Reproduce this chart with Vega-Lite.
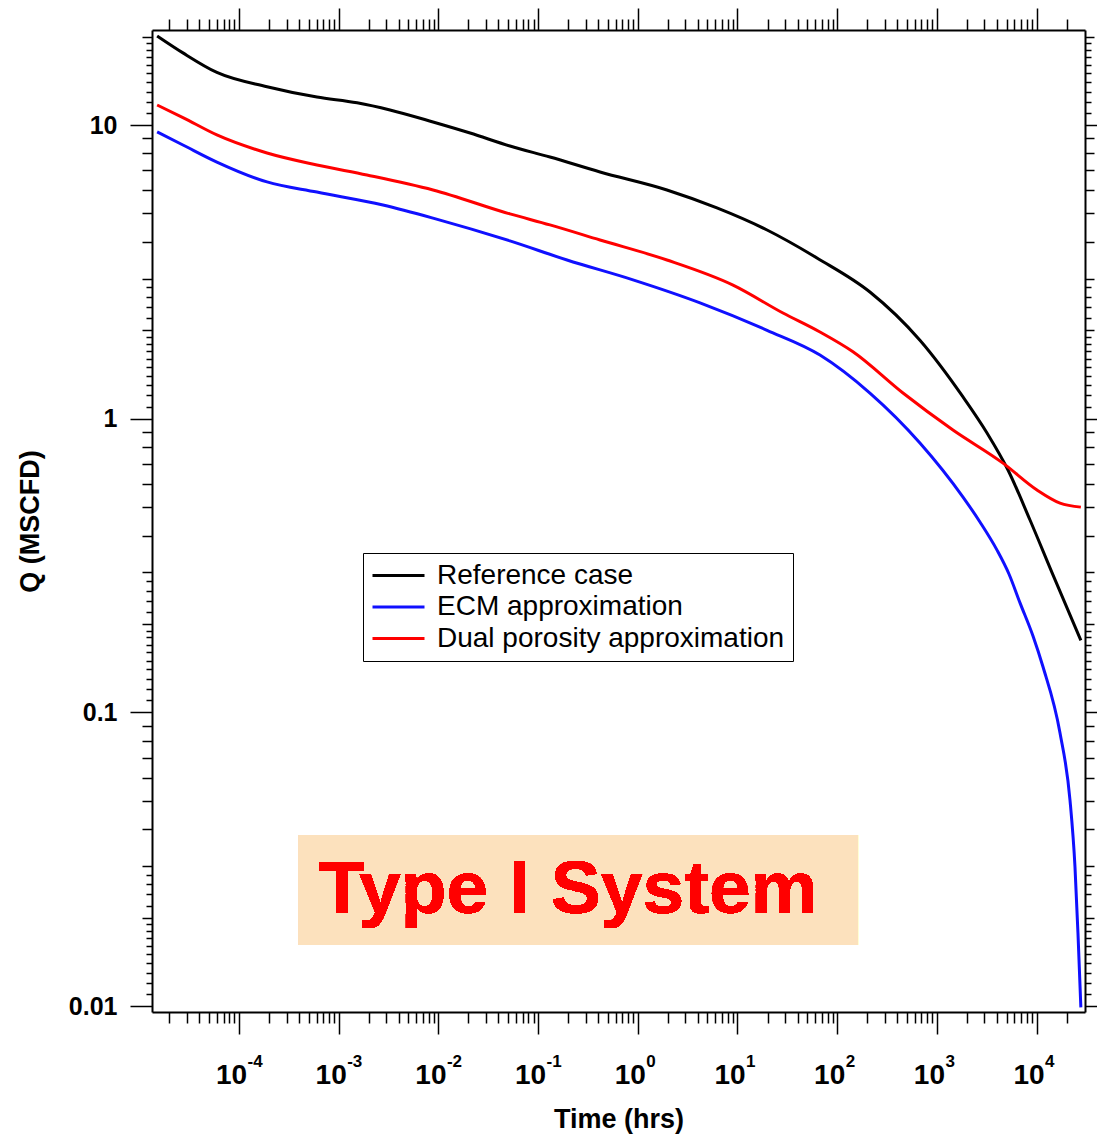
{
  "$schema": "https://vega.github.io/schema/vega-lite/v6.json",
  "width": 933,
  "height": 982,
  "autosize": {"type": "none"},
  "padding": {"left": 152, "top": 30, "right": 12, "bottom": 124},
  "background": "white",
  "config": {
    "view": {"stroke": null},
    "font": "Liberation Sans",
    "axis": {"grid": false, "domainColor": "black", "tickColor": "black", "labelColor": "black", "titleColor": "black", "domainWidth": 2, "tickWidth": 1.5, "labelFlush": false, "labelOverlap": false, "labelFont": "Liberation Sans", "titleFont": "Liberation Sans"}
  },
  "data": {
    "values": [
      {"series": "Reference case", "t": 0.0000151, "q": 20.1},
      {"series": "Reference case", "t": 0.0000274, "q": 17.6},
      {"series": "Reference case", "t": 0.00006, "q": 15.1},
      {"series": "Reference case", "t": 0.000191, "q": 13.5},
      {"series": "Reference case", "t": 0.000605, "q": 12.45},
      {"series": "Reference case", "t": 0.00153, "q": 11.9},
      {"series": "Reference case", "t": 0.00327, "q": 11.25},
      {"series": "Reference case", "t": 0.00883, "q": 10.24},
      {"series": "Reference case", "t": 0.0208, "q": 9.39},
      {"series": "Reference case", "t": 0.0522, "q": 8.48},
      {"series": "Reference case", "t": 0.1315, "q": 7.78},
      {"series": "Reference case", "t": 0.418, "q": 6.92},
      {"series": "Reference case", "t": 1.96, "q": 6.01},
      {"series": "Reference case", "t": 6.22, "q": 5.22},
      {"series": "Reference case", "t": 19.8, "q": 4.39},
      {"series": "Reference case", "t": 65, "q": 3.5},
      {"series": "Reference case", "t": 213, "q": 2.7},
      {"series": "Reference case", "t": 676, "q": 1.85},
      {"series": "Reference case", "t": 1828, "q": 1.186},
      {"series": "Reference case", "t": 3184, "q": 0.894},
      {"series": "Reference case", "t": 5167, "q": 0.669},
      {"series": "Reference case", "t": 8590, "q": 0.452},
      {"series": "Reference case", "t": 14600, "q": 0.294},
      {"series": "Reference case", "t": 27800, "q": 0.176},
      {"series": "ECM approximation", "t": 0.0000151, "q": 9.47},
      {"series": "ECM approximation", "t": 0.0000274, "q": 8.55},
      {"series": "ECM approximation", "t": 0.00006, "q": 7.48},
      {"series": "ECM approximation", "t": 0.000191, "q": 6.4},
      {"series": "ECM approximation", "t": 0.000605, "q": 5.91},
      {"series": "ECM approximation", "t": 0.00278, "q": 5.34},
      {"series": "ECM approximation", "t": 0.00883, "q": 4.82},
      {"series": "ECM approximation", "t": 0.0522, "q": 4.03},
      {"series": "ECM approximation", "t": 0.195, "q": 3.47},
      {"series": "ECM approximation", "t": 0.895, "q": 2.97},
      {"series": "ECM approximation", "t": 4.21, "q": 2.48},
      {"series": "ECM approximation", "t": 19.8, "q": 2.0},
      {"series": "ECM approximation", "t": 67.2, "q": 1.648},
      {"series": "ECM approximation", "t": 213, "q": 1.223},
      {"series": "ECM approximation", "t": 676, "q": 0.827},
      {"series": "ECM approximation", "t": 1828, "q": 0.541},
      {"series": "ECM approximation", "t": 2704, "q": 0.445},
      {"series": "ECM approximation", "t": 4010, "q": 0.357},
      {"series": "ECM approximation", "t": 5284, "q": 0.296},
      {"series": "ECM approximation", "t": 6820, "q": 0.236},
      {"series": "ECM approximation", "t": 9204, "q": 0.182},
      {"series": "ECM approximation", "t": 11590, "q": 0.143},
      {"series": "ECM approximation", "t": 17180, "q": 0.0851},
      {"series": "ECM approximation", "t": 21630, "q": 0.0503},
      {"series": "ECM approximation", "t": 24270, "q": 0.0298},
      {"series": "ECM approximation", "t": 26000, "q": 0.01775},
      {"series": "ECM approximation", "t": 27800, "q": 0.0099},
      {"series": "Dual porosity approximation", "t": 0.0000151, "q": 11.7},
      {"series": "Dual porosity approximation", "t": 0.0000274, "q": 10.6},
      {"series": "Dual porosity approximation", "t": 0.00006, "q": 9.25},
      {"series": "Dual porosity approximation", "t": 0.000191, "q": 8.03},
      {"series": "Dual porosity approximation", "t": 0.000605, "q": 7.31},
      {"series": "Dual porosity approximation", "t": 0.00192, "q": 6.76},
      {"series": "Dual porosity approximation", "t": 0.00883, "q": 6.01},
      {"series": "Dual porosity approximation", "t": 0.0522, "q": 4.98},
      {"series": "Dual porosity approximation", "t": 0.1315, "q": 4.57},
      {"series": "Dual porosity approximation", "t": 0.418, "q": 4.06},
      {"series": "Dual porosity approximation", "t": 1.96, "q": 3.47},
      {"series": "Dual porosity approximation", "t": 9.02, "q": 2.85},
      {"series": "Dual porosity approximation", "t": 28.6, "q": 2.29},
      {"series": "Dual porosity approximation", "t": 67.2, "q": 1.973},
      {"series": "Dual porosity approximation", "t": 144, "q": 1.69},
      {"series": "Dual porosity approximation", "t": 457, "q": 1.223},
      {"series": "Dual porosity approximation", "t": 1449, "q": 0.915},
      {"series": "Dual porosity approximation", "t": 4600, "q": 0.706},
      {"series": "Dual porosity approximation", "t": 10090, "q": 0.572},
      {"series": "Dual porosity approximation", "t": 17180, "q": 0.516},
      {"series": "Dual porosity approximation", "t": 27800, "q": 0.5}
    ]
  },
  "layer": [
    {
      "mark": {"type": "rect", "color": "#fce1bd"},
      "encoding": {
        "x": {"datum": 0.000391, "type": "quantitative", "scale": {"type": "log", "domain": [0.00001341, 30590], "nice": false}, "axis": null},
        "x2": {"datum": 161.8},
        "y": {"datum": 0.03824, "type": "quantitative", "scale": {"type": "log", "domain": [0.00955, 21.06], "nice": false},
              "axis": {"orient": "right", "values": [0.011,0.012,0.013,0.014,0.015,0.016,0.017,0.018,0.019,0.022,0.024,0.026,0.028,0.11,0.12,0.13,0.14,0.15,0.16,0.17,0.18,0.19,0.22,0.24,0.26,0.28,1.1,1.2,1.3,1.4,1.5,1.6,1.7,1.8,1.9,2.2,2.4,2.6,2.8,11,12,13,14,15,16,17,18,19], "labels": false, "tickSize": 6, "domain": false, "title": null}},
        "y2": {"datum": 0.01614}
      }
    },
    {
      "mark": {"type": "text", "text": "Type I System", "fontSize": 75, "fontWeight": "bold", "font": "Liberation Sans", "color": "#ff0000", "align": "center", "baseline": "alphabetic"},
      "encoding": {
        "x": {"datum": 0.2, "type": "quantitative", "scale": {"type": "log", "domain": [0.00001341, 30590], "nice": false}, "axis": null},
        "y": {"datum": 0.0207, "type": "quantitative", "scale": {"type": "log", "domain": [0.00955, 21.06], "nice": false}, "axis": null}
      }
    },
    {
      "mark": {"type": "line", "strokeWidth": 3, "interpolate": "monotone"},
      "encoding": {
        "x": {"field": "t", "type": "quantitative", "scale": {"type": "log", "domain": [0.00001341, 30590], "nice": false},
              "axis": {"orient": "bottom", "values": [0.0001,0.001,0.01,0.1,1,10,100,1000,10000], "labelExpr": "'10'", "tickSize": 22, "labelPadding": 27, "labelFontSize": 28, "labelFontWeight": "bold", "labelOffset": -8,
                       "title": "Time (hrs)", "titleFontSize": 27, "titleFontWeight": "bold", "titleX": 466.5, "titleY": 115, "titleBaseline": "alphabetic", "titleAlign": "center"}},
        "y": {"field": "q", "type": "quantitative", "scale": {"type": "log", "domain": [0.00955, 21.06], "nice": false},
              "axis": {"orient": "left", "values": [0.01,0.1,1,10], "labelExpr": "datum.value < 0.05 ? '0.01' : datum.value < 0.5 ? '0.1' : datum.value < 5 ? '1' : '10'", "tickSize": 22, "labelPadding": 13, "labelFontSize": 25, "labelFontWeight": "bold",
                       "title": "Q (MSCFD)", "titleFontSize": 27, "titleFontWeight": "bold", "titleX": -114, "titleY": 491, "titleAngle": -90, "titleAlign": "center", "titleBaseline": "alphabetic"}},
        "color": {"field": "series", "type": "nominal",
                  "scale": {"domain": ["Reference case", "ECM approximation", "Dual porosity approximation"], "range": ["#000000", "#1010ff", "#ff0000"]},
                  "legend": {"orient": "none", "legendX": 211, "legendY": 523, "title": null, "strokeColor": "black", "fillColor": "white", "padding": 8,
                             "labelFontSize": 28, "labelFont": "Liberation Sans", "labelColor": "black", "labelLimit": 0,
                             "symbolType": "M-1,0H3", "symbolSize": 676, "symbolStrokeWidth": 3, "labelOffset": 37, "rowPadding": 2.5}}
      }
    },
    {
      "mark": {"type": "point", "opacity": 0},
      "encoding": {
        "x": {"field": "t", "type": "quantitative", "scale": {"type": "log", "domain": [0.00001341, 30590], "nice": false},
              "axis": {"orient": "bottom", "values": [0.0001,0.001,0.01,0.1,1,10,100,1000,10000], "labelExpr": "'' + round(log(datum.value)/LN10)", "ticks": false, "tickSize": 0, "domain": false, "labelPadding": 41, "labelAlign": "left", "labelOffset": 8, "labelFontSize": 17, "labelFontWeight": "bold", "title": null}},
        "y": {"field": "q", "type": "quantitative", "scale": {"type": "log", "domain": [0.00955, 21.06], "nice": false},
              "axis": {"orient": "left", "values": [0.02,0.03,0.04,0.05,0.06,0.07,0.08,0.09,0.2,0.3,0.4,0.5,0.6,0.7,0.8,0.9,2,3,4,5,6,7,8,9,20], "labels": false, "tickSize": 10, "domain": false, "title": null}}
      }
    },
    {
      "mark": {"type": "point", "opacity": 0},
      "encoding": {
        "x": {"field": "t", "type": "quantitative", "scale": {"type": "log", "domain": [0.00001341, 30590], "nice": false},
              "axis": {"orient": "bottom", "values": [0.00002,0.00003,0.00004,0.00005,0.00006,0.00007,0.00008,0.00009,0.0002,0.0003,0.0004,0.0005,0.0006,0.0007,0.0008,0.0009,0.002,0.003,0.004,0.005,0.006,0.007,0.008,0.009,0.02,0.03,0.04,0.05,0.06,0.07,0.08,0.09,0.2,0.3,0.4,0.5,0.6,0.7,0.8,0.9,2,3,4,5,6,7,8,9,20,30,40,50,60,70,80,90,200,300,400,500,600,700,800,900,2000,3000,4000,5000,6000,7000,8000,9000,20000], "labels": false, "tickSize": 11, "domain": false, "title": null}},
        "y": {"field": "q", "type": "quantitative", "scale": {"type": "log", "domain": [0.00955, 21.06], "nice": false},
              "axis": {"orient": "left", "values": [0.011,0.012,0.013,0.014,0.015,0.016,0.017,0.018,0.019,0.022,0.024,0.026,0.028,0.11,0.12,0.13,0.14,0.15,0.16,0.17,0.18,0.19,0.22,0.24,0.26,0.28,1.1,1.2,1.3,1.4,1.5,1.6,1.7,1.8,1.9,2.2,2.4,2.6,2.8,11,12,13,14,15,16,17,18,19], "labels": false, "tickSize": 6, "domain": false, "title": null}}
      }
    },
    {
      "mark": {"type": "point", "opacity": 0},
      "encoding": {
        "x": {"field": "t", "type": "quantitative", "scale": {"type": "log", "domain": [0.00001341, 30590], "nice": false},
              "axis": {"orient": "top", "values": [0.0001,0.001,0.01,0.1,1,10,100,1000,10000], "labels": false, "tickSize": 22, "domain": true, "title": null}},
        "y": {"field": "q", "type": "quantitative", "scale": {"type": "log", "domain": [0.00955, 21.06], "nice": false},
              "axis": {"orient": "right", "values": [0.01,0.1,1,10], "labels": false, "tickSize": 12, "domain": true, "title": null}}
      }
    },
    {
      "mark": {"type": "point", "opacity": 0},
      "encoding": {
        "x": {"field": "t", "type": "quantitative", "scale": {"type": "log", "domain": [0.00001341, 30590], "nice": false},
              "axis": {"orient": "top", "values": [0.00002,0.00003,0.00004,0.00005,0.00006,0.00007,0.00008,0.00009,0.0002,0.0003,0.0004,0.0005,0.0006,0.0007,0.0008,0.0009,0.002,0.003,0.004,0.005,0.006,0.007,0.008,0.009,0.02,0.03,0.04,0.05,0.06,0.07,0.08,0.09,0.2,0.3,0.4,0.5,0.6,0.7,0.8,0.9,2,3,4,5,6,7,8,9,20,30,40,50,60,70,80,90,200,300,400,500,600,700,800,900,2000,3000,4000,5000,6000,7000,8000,9000,20000], "labels": false, "tickSize": 11, "domain": false, "title": null}},
        "y": {"field": "q", "type": "quantitative", "scale": {"type": "log", "domain": [0.00955, 21.06], "nice": false},
              "axis": {"orient": "right", "values": [0.02,0.03,0.04,0.05,0.06,0.07,0.08,0.09,0.2,0.3,0.4,0.5,0.6,0.7,0.8,0.9,2,3,4,5,6,7,8,9,20], "labels": false, "tickSize": 9, "domain": false, "title": null}}
      }
    }
  ],
  "resolve": {"axis": {"x": "independent", "y": "independent"}}
}
